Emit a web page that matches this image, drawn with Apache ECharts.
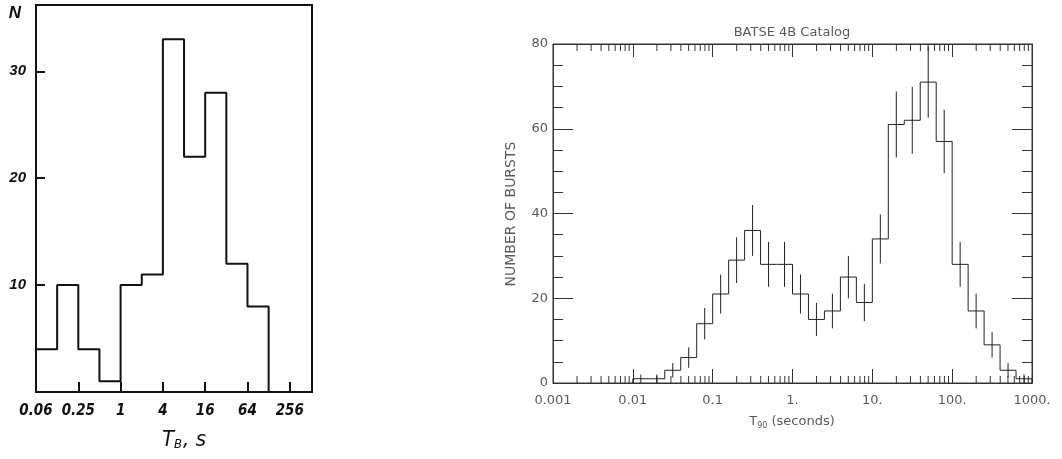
<!DOCTYPE html>
<html><head><meta charset="utf-8">
<script src="https://cdn.jsdelivr.net/npm/echarts@6/dist/echarts.min.js"></script>
<style>html,body{margin:0;padding:0;background:#fff}#c{width:1062px;height:459px}</style>
</head><body><div id="c"></div>
<script>
// ---- Left panel: histogram of T_B (octave bins) ----
const leftEdges = [0.0625, 0.125, 0.25, 0.5, 1, 2, 4, 8, 16, 32, 64, 128];
const leftCounts = [4, 10, 4, 1, 10, 11, 33, 22, 28, 12, 8];
const leftXTicks = [0.0625, 0.25, 1, 4, 16, 64, 256];
const leftXTickLabels = ['0.06', '0.25', '1', '4', '16', '64', '256'];
const leftYTicks = [10, 20, 30];
const leftYTickLabels = ['10', '20', '30'];

// ---- Right panel: BATSE 4B T90 distribution (0.2 dex bins) ----
const rightEdgesLog = [-2, -1.8, -1.6, -1.4, -1.2, -1, -0.8, -0.6, -0.4, -0.2, 0, 0.2, 0.4, 0.6, 0.8, 1, 1.2, 1.4, 1.6, 1.8, 2, 2.2, 2.4, 2.6, 2.8, 3];
const rightCounts = [1, 1, 3, 6, 14, 21, 29, 36, 28, 28, 21, 15, 17, 25, 19, 34, 61, 62, 71, 57, 28, 17, 9, 3, 1];
const rightErrors = [1, 1, 1.7, 2.4, 3.7, 4.6, 5.4, 6, 5.3, 5.3, 4.6, 3.9, 4.1, 5, 4.4, 5.8, 7.8, 7.9, 8.4, 7.5, 5.3, 4.1, 3, 1.7, 1];
const rightXTicks = [0.001, 0.01, 0.1, 1, 10, 100, 1000];
const rightXTickLabels = ['0.001', '0.01', '0.1', '1.', '10.', '100.', '1000.'];
const rightYTicks = [0, 20, 40, 60, 80];
const rightYTickLabels = ['0', '20', '40', '60', '80'];
const minorMultipliers = [2, 3, 4, 5, 6, 7, 8, 9];

function stepPoints(edges, counts) {
  const n = counts.length;
  const pts = [[edges[0], 0]];
  for (let i = 0; i < n; i++) pts.push([edges[i], counts[i]]);
  pts.push([edges[n], counts[n - 1]]);
  pts.push([edges[n], 0]);
  return pts;
}

const leftPts = stepPoints(leftEdges.map(e => Math.log2(e)), leftCounts);
const rightEdges = rightEdgesLog.map(l => Math.pow(10, l));
const rightPts = stepPoints(rightEdges, rightCounts);
const errData = rightCounts.map((c, i) => [Math.pow(10, (rightEdgesLog[i] + rightEdgesLog[i + 1]) / 2), c, rightErrors[i]]);
const minorData = [];
for (let d = -3; d < 3; d++) minorMultipliers.forEach(m => minorData.push([m * Math.pow(10, d), 0]));

const INK = '#111';
const GREY = '#333';
const TXT = '#5a5a5a';
const gostFont = '"Liberation Sans Narrow", "DejaVu Sans Condensed", sans-serif';
const plainFont = '"DejaVu Sans", sans-serif';

const chart = echarts.init(document.getElementById('c'), null, {renderer: 'canvas'});
chart.setOption({
  animation: false,
  backgroundColor: '#fff',
  grid: [
    {left: 36, top: 5, width: 276, height: 387, show: true, borderColor: INK, borderWidth: 2, containLabel: false},
    {left: 553, top: 44, width: 479, height: 339, show: true, borderColor: GREY, borderWidth: 1, containLabel: false}
  ],
  xAxis: [
    {gridIndex: 0, type: 'value', min: -4, max: 9.05, interval: 2,
      axisLine: {show: true, onZero: false, lineStyle: {color: INK, width: 2}},
      axisTick: {show: true, inside: true, length: 10, lineStyle: {color: INK, width: 2}},
      splitLine: {show: false},
      axisLabel: {margin: 12, color: INK, fontFamily: gostFont, fontStyle: 'italic', fontWeight: 'bold', fontSize: 15,
        formatter: v => { const i = leftXTicks.findIndex(t => Math.abs(Math.log2(t) - v) < 1e-6); return i >= 0 ? leftXTickLabels[i] : ''; }}},
    {gridIndex: 1, type: 'log', logBase: 10, min: 0.001, max: 1000,
      axisLine: {show: true, onZero: false, lineStyle: {color: GREY, width: 1}},
      axisTick: {show: true, inside: true, length: 14, lineStyle: {color: GREY, width: 1}},
      splitLine: {show: false}, minorTick: {show: false},
      axisLabel: {margin: 11, color: TXT, fontFamily: plainFont, fontSize: 13,
        formatter: v => { const i = rightXTicks.findIndex(t => Math.abs(Math.log10(t) - Math.log10(v)) < 1e-6); return i >= 0 ? rightXTickLabels[i] : ''; }}},
    {gridIndex: 1, type: 'log', logBase: 10, min: 0.001, max: 1000, position: 'top',
      axisLine: {show: true, onZero: false, lineStyle: {color: GREY, width: 1}},
      axisTick: {show: true, inside: true, length: 13, lineStyle: {color: GREY, width: 1}},
      splitLine: {show: false}, minorTick: {show: false}, axisLabel: {show: false}}
  ],
  yAxis: [
    {gridIndex: 0, type: 'value', min: 0, max: 36.2, interval: 10,
      axisLine: {show: true, onZero: false, lineStyle: {color: INK, width: 2}},
      axisTick: {show: true, inside: true, length: 9, lineStyle: {color: INK, width: 2}},
      splitLine: {show: false},
      axisLabel: {margin: 10, color: INK, fontFamily: '"Liberation Sans", sans-serif', fontStyle: 'italic', fontWeight: 'bold', fontSize: 15,
        formatter: v => { const i = leftYTicks.indexOf(v); return i >= 0 ? leftYTickLabels[i] : ''; }}},
    {gridIndex: 1, type: 'value', min: 0, max: 80, interval: 20,
      axisLine: {show: true, onZero: false, lineStyle: {color: GREY, width: 1}},
      axisTick: {show: true, inside: true, length: 20, lineStyle: {color: GREY, width: 1}},
      minorTick: {show: true, splitNumber: 4, length: 10, lineStyle: {color: GREY, width: 1}},
      splitLine: {show: false}, minorSplitLine: {show: false},
      axisLabel: {margin: 5, color: TXT, fontFamily: plainFont, fontSize: 13,
        formatter: v => { const i = rightYTicks.indexOf(v); return i >= 0 ? rightYTickLabels[i] : ''; }}},
    {gridIndex: 1, type: 'value', min: 0, max: 80, interval: 20, position: 'right',
      axisLine: {show: true, onZero: false, lineStyle: {color: GREY, width: 1}},
      axisTick: {show: true, inside: true, length: 20, lineStyle: {color: GREY, width: 1}},
      minorTick: {show: true, splitNumber: 4, length: 10, lineStyle: {color: GREY, width: 1}},
      splitLine: {show: false}, minorSplitLine: {show: false}, axisLabel: {show: false}}
  ],
  series: [
    {type: 'line', xAxisIndex: 0, yAxisIndex: 0, step: 'end', data: leftPts, symbol: 'none',
      lineStyle: {color: INK, width: 2}, z: 3},
    {type: 'line', xAxisIndex: 1, yAxisIndex: 1, step: 'end', data: rightPts, symbol: 'none',
      lineStyle: {color: '#222', width: 1}, z: 3},
    {type: 'custom', xAxisIndex: 1, yAxisIndex: 1, data: errData, z: 4,
      renderItem: (params, api) => {
        const x = api.value(0), v = api.value(1), e = api.value(2);
        const a = api.coord([x, v - e]), b = api.coord([x, v + e]);
        return {type: 'line', shape: {x1: a[0], y1: a[1], x2: b[0], y2: b[1]}, style: {stroke: '#222', lineWidth: 1}};
      }},
    {type: 'custom', xAxisIndex: 1, yAxisIndex: 1, data: minorData, z: 2, clip: false,
      renderItem: (params, api) => {
        const v = api.value(0);
        const b = api.coord([v, 0]), t = api.coord([v, 80]);
        return {type: 'group', children: [
          {type: 'line', shape: {x1: b[0], y1: b[1], x2: b[0], y2: b[1] - 7}, style: {stroke: GREY, lineWidth: 1}},
          {type: 'line', shape: {x1: t[0], y1: t[1], x2: t[0], y2: t[1] + 7}, style: {stroke: GREY, lineWidth: 1}}
        ]};
      }}
  ],
  graphic: [
    {type: 'text', x: 15, y: 13, style: {text: 'N', fill: INK, font: 'italic bold 17px "Liberation Sans", sans-serif', align: 'center', verticalAlign: 'middle'}},
    {type: 'text', x: 184, y: 440, style: {
      text: '{t|T}{b|B}{t|, s}', fill: INK, align: 'center', verticalAlign: 'middle',
      rich: {
        t: {fontSize: 22, fontStyle: 'italic', fontFamily: gostFont, fill: INK},
        b: {fontSize: 13, fontStyle: 'italic', fontFamily: gostFont, fill: INK, padding: [10, 1, 0, 0]}
      }}},
    {type: 'text', x: 792, y: 33, style: {text: 'BATSE 4B Catalog', fill: TXT, font: '13px "DejaVu Sans", sans-serif', align: 'center', verticalAlign: 'middle'}},
    {type: 'text', x: 511, y: 214, rotation: Math.PI / 2, style: {text: 'NUMBER OF BURSTS', fill: TXT, font: '14px "DejaVu Sans", sans-serif', align: 'center', verticalAlign: 'middle'}},
    {type: 'text', x: 792, y: 422, style: {
      text: '{t|T}{s|90}{t| (seconds)}', fill: TXT, align: 'center', verticalAlign: 'middle',
      rich: {
        t: {fontSize: 13, fontFamily: plainFont, fill: TXT},
        s: {fontSize: 8, fontFamily: plainFont, fill: TXT, padding: [7, 0, 0, 0]}
      }}}
  ]
});
</script></body></html>
